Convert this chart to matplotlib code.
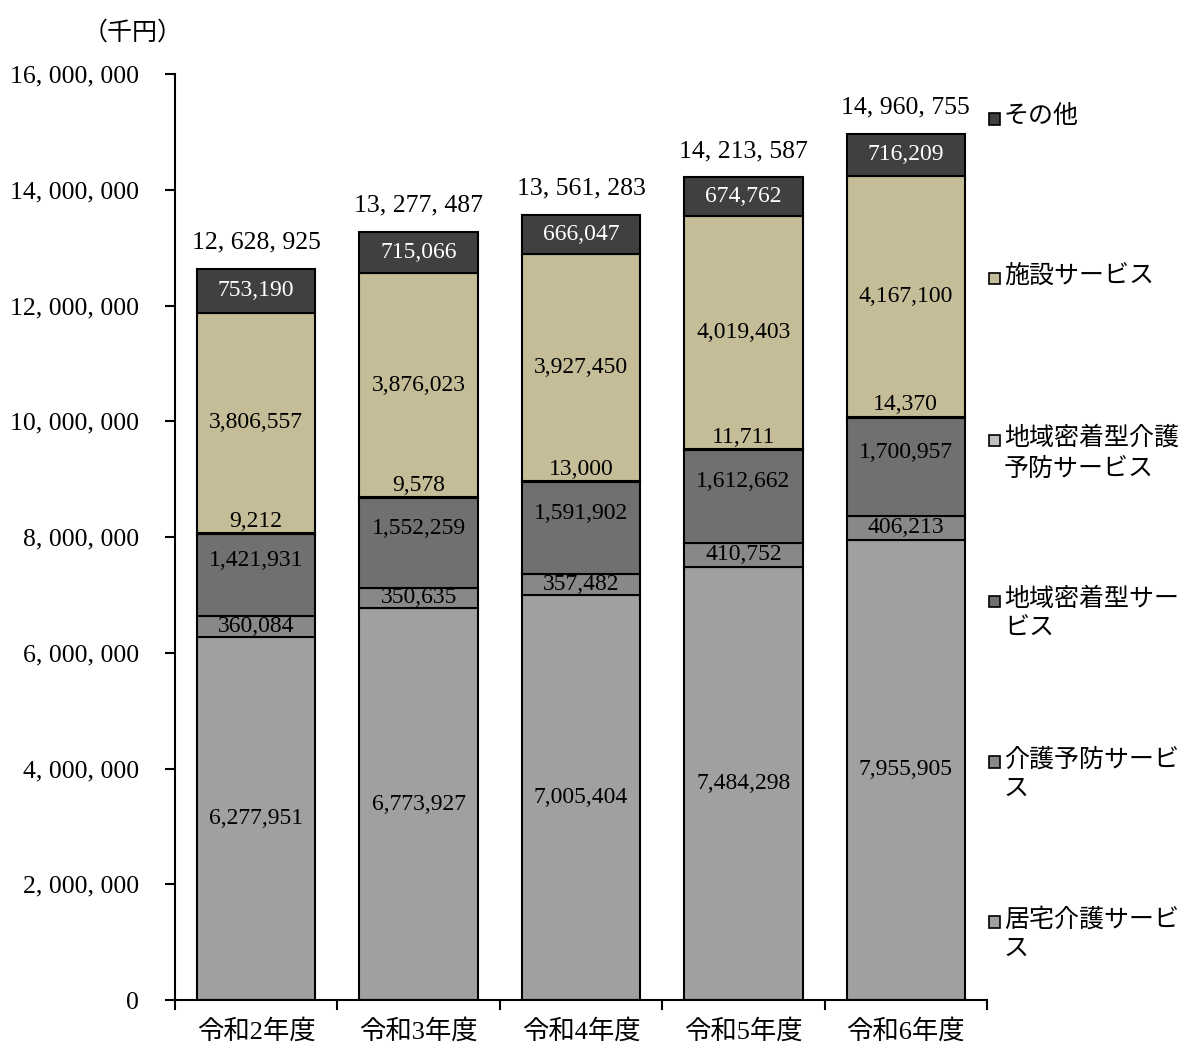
import matplotlib
matplotlib.use('Agg')
import matplotlib.pyplot as plt
from matplotlib.patches import Rectangle
import numpy as np

plt.rcParams['font.family'] = ['Liberation Serif', 'Noto Sans CJK JP']

years = ['令和2年度', '令和3年度', '令和4年度', '令和5年度', '令和6年度']
kyotaku = [6277951, 6773927, 7005404, 7484298, 7955905]
yobou = [360084, 350635, 357482, 410752, 406213]
chiiki = [1421931, 1552259, 1591902, 1612662, 1700957]
chiikiYobou = [9212, 9578, 13000, 11711, 14370]
shisetsu = [3806557, 3876023, 3927450, 4019403, 4167100]
sonota = [753190, 715066, 666047, 674762, 716209]
totals = [12628925, 13277487, 13561283, 14213587, 14960755]

seriesNames = ['居宅介護サービス', '介護予防サービス', '地域密着型サービス',
               '地域密着型介護予防サービス', '施設サービス', 'その他']
legendLabels = ['居宅介護サービ\nス', '介護予防サービ\nス', '地域密着型サー\nビス',
                '地域密着型介護\n予防サービス', '施設サービス', 'その他']
series = [kyotaku, yobou, chiiki, chiikiYobou, shisetsu, sonota]
colors = ['#a0a0a0', '#888888', '#707070', '#c0c0c0', '#c4bd97', '#404040']

def fmtWide(v):
    return f'{v:,}'.replace(',', ', ')

fig = plt.figure(figsize=(11.88, 10.44), dpi=100)
ax = fig.add_axes([0.1473, 0.0421, 0.6835, 0.887])

x = np.arange(len(years))
bottom = np.zeros(len(years))
for i, vals in enumerate(series):
    vals = np.array(vals, dtype=float)
    ax.bar(x, vals, 0.73, bottom=bottom, color=colors[i], edgecolor='black',
           linewidth=1.5, zorder=2)
    for j in range(len(years)):
        label = f'{int(vals[j]):,}'
        center = bottom[j] + vals[j] / 2
        if i == 3:
            ax.annotate(label, (x[j], bottom[j] + vals[j]), xytext=(0, 1),
                        textcoords='offset points', ha='center', va='bottom',
                        fontsize=17, color='black')
        else:
            shift = 0.25e6 if i == 2 else 0
            ax.text(x[j], center + shift, label, ha='center', va='center',
                    fontsize=17, color='white' if i == 5 else 'black')
    bottom += vals

for j in range(len(years)):
    ax.annotate(fmtWide(totals[j]), (x[j], totals[j]), xytext=(0, 11),
                textcoords='offset points', ha='center', va='bottom', fontsize=18.5)

ax.set_xlim(-0.5, len(years) - 0.5)
ax.set_ylim(0, 16000000)
ax.set_yticks(np.arange(0, 16000001, 2000000))
ax.set_yticklabels([fmtWide(v) for v in np.arange(0, 16000001, 2000000)], fontsize=18.5)
ax.set_xticks(np.arange(-0.5, len(years), 1.0))
ax.set_xticklabels([])
ax.set_xticks(x, minor=True)
ax.set_xticklabels(years, minor=True, fontsize=19)
ax.tick_params(axis='x', which='minor', length=0, pad=14)
ax.tick_params(axis='x', which='major', length=7, width=1.5, direction='out')
ax.tick_params(axis='y', length=7, width=1.5, direction='out', pad=19)
for s in ['top', 'right']:
    ax.spines[s].set_visible(False)
for s in ['left', 'bottom']:
    ax.spines[s].set_linewidth(1.5)

fig.text(0.112, 0.969, '（千円）', fontsize=18, ha='center', va='center')

# legend drawn on the right side, top entry first
legendY = [0.886, 0.733, 0.578, 0.424, 0.270, 0.117]
order = [5, 4, 3, 2, 1, 0]
for k, idx in enumerate(order):
    y = legendY[k]
    fig.patches.append(Rectangle((0.8325, y - 0.0055), 0.0095, 0.011,
                                 transform=fig.transFigure, facecolor=colors[idx],
                                 edgecolor='black', linewidth=1.2))
    fig.text(0.845, y + 0.0135, legendLabels[idx], fontsize=18, ha='left', va='top',
             linespacing=1.42)

fig.savefig('out.png', dpi=100)
